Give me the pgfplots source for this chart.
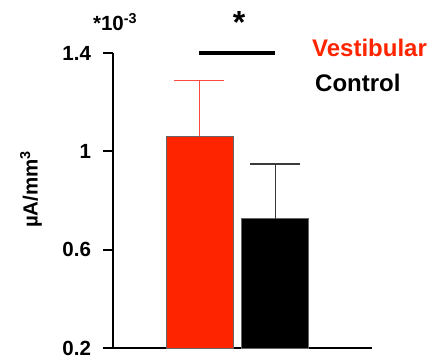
\documentclass[border=0pt]{standalone}
\usepackage{fontspec}
\setmainfont{Liberation Sans}
\usepackage{pgfplots}
\pgfplotsset{compat=1.18}

\definecolor{vestred}{HTML}{FF2400}
\definecolor{vesterr}{HTML}{FF4A40}
\definecolor{ctrlerr}{HTML}{3A3A3A}

\begin{document}
\begin{tikzpicture}
\fontsize{20.5}{24}\selectfont\bfseries
\path[use as bounding box] (-113pt,-10pt) rectangle (324pt,348pt);
\begin{axis}[
  at={(0,0)}, anchor=south west,
  scale only axis,
  width=259pt, height=295pt,
  xmin=0, xmax=259,
  ymin=0.2, ymax=1.4,
  axis x line=bottom, axis y line=left,
  axis line style={line width=1.8pt, -},
  xtick=\empty,
  ytick={0.2,0.6,1,1.4},
  yticklabels={0.2,0.6,1,1.4},
  tick align=outside,
  major tick length=10pt,
  tick style={line width=1.8pt, black},
  yticklabel style={font=\fontsize{20.5}{24}\selectfont\bfseries, xshift=-5pt},
  ylabel={\textmu A/mm\textsuperscript{3}},
  ylabel style={font=\fontsize{20.5}{24}\selectfont\bfseries,
    at={(axis description cs:-0.317,0.538)}, anchor=center},
  clip=false,
  ybar, bar width=67pt, bar shift=0pt,
  error bars/y dir=plus, error bars/y explicit,
]
% Vestibular group
\addplot[fill=vestred, draw=black!60, line width=0.6pt,
  error bars/error bar style={vesterr, line width=1.5pt},
  error bars/error mark options={vesterr, line width=1.5pt, mark size=25pt, rotate=90}]
  coordinates {(86.5,1.0625) +- (0,0.225)};
% Control group
\addplot[fill=black, draw=black!60, line width=0.6pt,
  error bars/error bar style={ctrlerr, line width=1.5pt},
  error bars/error mark options={ctrlerr, line width=1.5pt, mark size=25pt, rotate=90}]
  coordinates {(162.3,0.726) +- (0,0.223)};

% significance bracket
\draw[line width=3.5pt] (axis cs:86,1.4) -- (axis cs:162,1.4);
\node[font=\fontsize{32}{36}\selectfont\bfseries] at (axis cs:126,1.525) {*};

% scale factor
\node[anchor=center] at (axis description cs:0.008,1.105)
  {*10\textsuperscript{-3}};

% group labels
\node[anchor=base west, text=vestred, inner sep=0pt,
  font=\fontsize{24}{28}\selectfont\bfseries] at (199pt,291.3pt) {Vestibular};
\node[anchor=base west, text=black, inner sep=0pt,
  font=\fontsize{24}{28}\selectfont\bfseries] at (202pt,256.3pt) {Control};
\end{axis}
\end{tikzpicture}
\end{document}
